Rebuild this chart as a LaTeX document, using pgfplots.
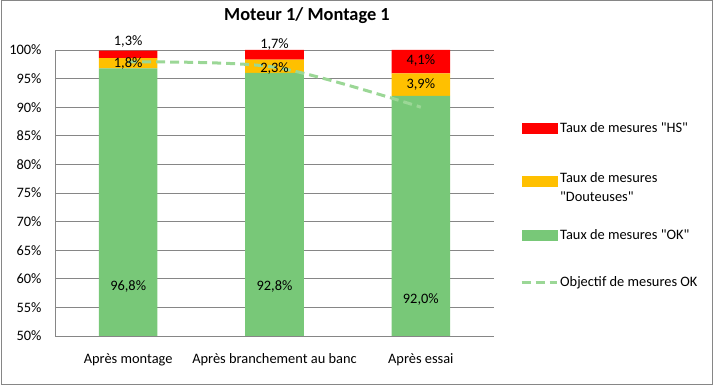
\documentclass[border=0pt]{standalone}
\usepackage{pgfplots}
\pgfplotsset{compat=1.18}
\usepackage{fontspec}
\setmainfont{Carlito}[Ligatures=TeXOff]
\definecolor{hs}{RGB}{255,0,0}
\definecolor{dout}{RGB}{255,192,0}
\definecolor{okc}{RGB}{120,200,120}
\definecolor{obj}{RGB}{155,215,150}
\definecolor{gridc}{RGB}{134,134,134}
\newcommand{\q}{\symbol{34}}
\begin{document}
\begin{tikzpicture}[font=\fontsize{14.4}{17}\selectfont]
\path (0pt,0pt) rectangle (716pt,387pt);
\draw[gridc, line width=1pt] (1pt,2pt) rectangle (712pt,386pt);
\node[font=\fontsize{18.4}{22}\selectfont\bfseries] at (307pt,371pt) {Moteur 1/ Montage 1};
\begin{axis}[
  at={(55pt,51pt)}, anchor=south west, scale only axis,
  width=439pt, height=286pt,
  xmin=-0.5, xmax=2.5, ymin=50, ymax=100,
  ybar stacked, bar width=0.4,
  axis x line=bottom, axis y line=left,
  axis line style={gridc, -},
  ytick={50,55,...,100},
  yticklabel={\pgfmathprintnumber{\tick}\%},
  /pgf/number format/assume math mode=true,
  xtick={0,1,2},
  xticklabels={Après montage, Après branchement au banc, Après essai},
  major tick length=0pt,
  ymajorgrids, grid style={gridc, line width=0.8pt},
  yticklabel style={xshift=-10pt, font=\fontsize{14.4}{17}\selectfont},
  xticklabel style={yshift=-14pt, font=\fontsize{14.4}{17}\selectfont},
  legend style={at={(1,1)}, anchor=north west, xshift=26pt, yshift=-70pt,
    draw=none, fill=none, row sep=32pt, inner sep=0pt,
    font=\fontsize{14.4}{17}\selectfont,
    /tikz/every even column/.append style={column sep=3pt}},
  legend cell align=left,
]
\addlegendimage{legend image code/.code={\fill[hs] (0pt,-5pt) rectangle (35pt,5pt);}}
\addlegendimage{legend image code/.code={\fill[dout] (0pt,-5pt) rectangle (35pt,5pt);}}
\addlegendimage{legend image code/.code={\fill[okc] (0pt,-5pt) rectangle (35pt,5pt);}}
\addlegendimage{legend image code/.code={\draw[obj, line width=3pt, dash pattern=on 9pt off 5pt] (0pt,0pt) -- (35pt,0pt);}}
\legend{Taux de mesures \q HS\q, {\renewcommand\arraystretch{1.1}\begin{tabular}{@{}l@{}}Taux de mesures\\\q Douteuses\q\end{tabular}}, Taux de mesures \q OK\q, Objectif de mesures OK}
\addplot[fill=okc, draw=none] coordinates {(0,96.8) (1,96.0) (2,92.0)};
\addplot[fill=dout, draw=none] coordinates {(0,1.8) (1,2.3) (2,3.9)};
\addplot[fill=hs, draw=none] coordinates {(0,1.3) (1,1.7) (2,4.1)};
\end{axis}
\begin{axis}[
  at={(55pt,51pt)}, anchor=south west, scale only axis,
  width=439pt, height=286pt,
  xmin=-0.5, xmax=2.5, ymin=50, ymax=100,
  hide axis, clip=false,
]
\addplot[obj, line width=3pt, dash pattern=on 9pt off 5pt, smooth] coordinates {(0,97.9) (1,97.0) (2,90.0)};
\node at (axis cs:0,101.4) {1,3\%};
\node at (axis cs:0,97.7) {1,8\%};
\node at (axis cs:0,58.6) {96,8\%};
\node at (axis cs:1,100.9) {1,7\%};
\node at (axis cs:1,96.8) {2,3\%};
\node at (axis cs:1,58.6) {92,8\%};
\node at (axis cs:2,98.2) {4,1\%};
\node at (axis cs:2,93.9) {3,9\%};
\node at (axis cs:2,56.3) {92,0\%};
\end{axis}
\end{tikzpicture}
\end{document}
